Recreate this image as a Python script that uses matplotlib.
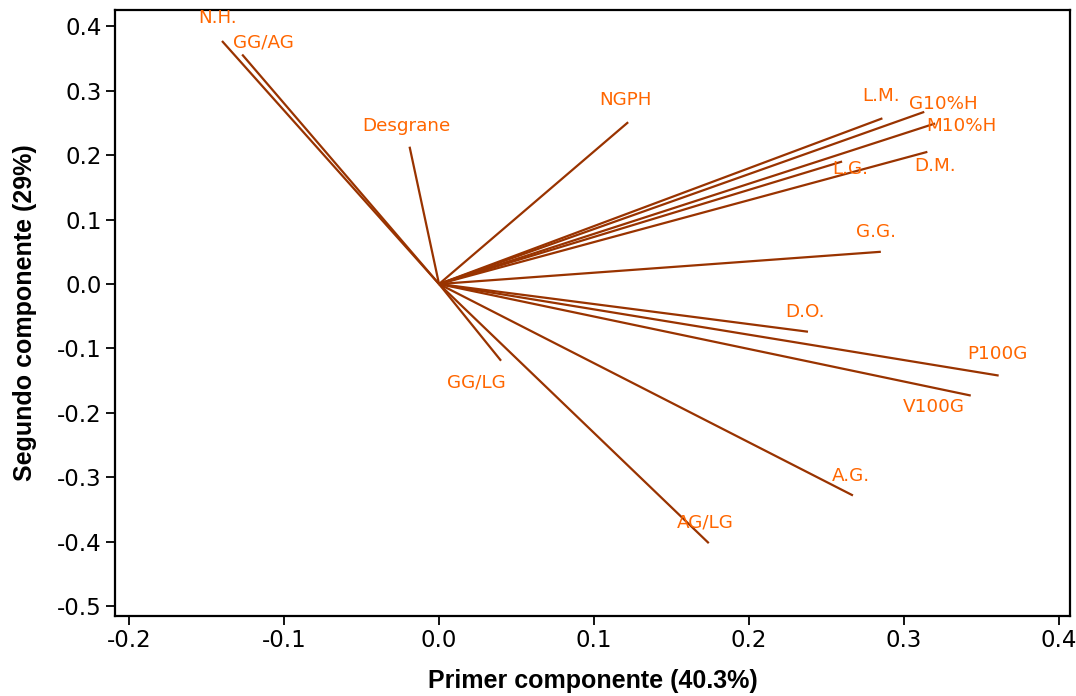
import numpy as np
import matplotlib.pyplot as plt

plt.rcParams['axes.unicode_minus'] = False

# loadings (first and second principal component)
variables = ["N.H.", "GG/AG", "Desgrane", "NGPH", "L.M.", "G10%H", "M10%H",
             "L.G.", "D.M.", "G.G.", "D.O.", "P100G", "V100G", "A.G.",
             "AG/LG", "GG/LG"]
pc1 = [-0.140, -0.127, -0.019, 0.122, 0.286, 0.313, 0.320,
       0.260, 0.315, 0.285, 0.238, 0.361, 0.343, 0.267,
       0.174, 0.040]
pc2 = [0.377, 0.356, 0.213, 0.251, 0.257, 0.267, 0.249,
       0.190, 0.205, 0.050, -0.074, -0.142, -0.173, -0.328,
       -0.402, -0.119]

# where each name sits
label_x = [-0.143, -0.113, -0.021, 0.120, 0.285, 0.325, 0.337,
           0.265, 0.320, 0.282, 0.236, 0.360, 0.319, 0.266,
           0.172, 0.024]
label_y = [0.412, 0.375, 0.245, 0.285, 0.291, 0.279, 0.245,
           0.179, 0.183, 0.081, -0.044, -0.109, -0.191, -0.298,
           -0.370, -0.152]

xticks = [-0.2, -0.1, 0.0, 0.1, 0.2, 0.3, 0.4]
yticks = [-0.5, -0.4, -0.3, -0.2, -0.1, 0.0, 0.1, 0.2, 0.3, 0.4]

line_color = "#993300"
text_color = "#FF6600"

fig = plt.figure(figsize=(10.76, 6.96), dpi=100)
ax = fig.add_axes([0.1069, 0.1149, 0.8875, 0.8707])

for i in range(len(variables)):
    ax.plot([0, pc1[i]], [0, pc2[i]], color=line_color, lw=1.6,
            solid_capstyle='butt')
    ax.text(label_x[i], label_y[i], variables[i], color=text_color,
            fontsize=13.2, family="DejaVu Sans", ha="center", va="center")

ax.set_xlim(-0.209, 0.407)
ax.set_ylim(-0.515, 0.425)
ax.set_xticks(xticks)
ax.set_yticks(yticks)
ax.set_xticklabels(["%.1f" % v for v in xticks], family="DejaVu Sans", fontsize=16.5)
ax.set_yticklabels(["%.1f" % v for v in yticks], family="DejaVu Sans", fontsize=16.5)
ax.tick_params(direction="out", length=6.5, width=1.3, pad=3)

for s in ax.spines.values():
    s.set_linewidth(1.6)

ax.set_xlabel("Primer componente (40.3%)", fontsize=18, fontweight="bold",
              family="Liberation Sans")
ax.set_ylabel("Segundo componente (29%)", fontsize=18, fontweight="bold",
              family="Liberation Sans")
ax.xaxis.set_label_coords(0.5, -0.088)
ax.yaxis.set_label_coords(-0.082, 0.5)

fig.savefig("out.png", dpi=100)
